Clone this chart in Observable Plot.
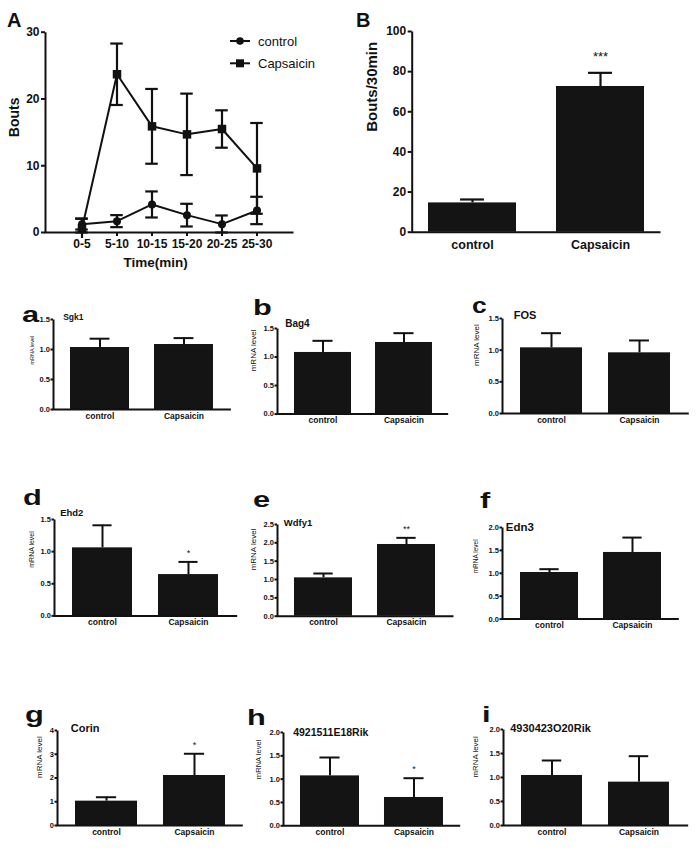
<!DOCTYPE html>
<html><head><meta charset="utf-8">
<script src="https://cdn.jsdelivr.net/npm/d3@7"></script>
<script src="https://cdn.jsdelivr.net/npm/@observablehq/plot@0.6"></script>
<style>
html,body{margin:0;padding:0;background:#fff;}
#fig{position:relative;width:700px;height:851px;overflow:hidden;background:#fff;font-family:"Liberation Sans",Arial,sans-serif;color:#111;}
#fig svg{position:absolute;overflow:visible;}
#fig [aria-label$="axis tick"]{stroke-width:2px;}
.gp [aria-label="y-axis tick label"]{font-size:7.5px;}
.gp [aria-label="x-axis tick label"]{font-size:8.5px;}
.big [aria-label$="axis tick label"]{font-size:12px;}
.bigB [aria-label="y-axis tick label"]{font-size:12px;}
.bigB [aria-label="x-axis tick label"]{font-size:12.5px;}
</style></head>
<body><div id="fig"></div>
<script>
// ---------- data ----------
const timeBins = ["0-5","5-10","10-15","15-20","20-25","25-30"];
const controlBouts = [1.25, 1.7, 4.2, 2.6, 1.25, 3.3];
const controlErr   = [0.8, 0.9, 1.95, 1.7, 1.3, 2.05];
const capsBouts    = [0.6, 23.7, 15.9, 14.7, 15.5, 9.6];
const capsErr      = [1.5, 4.6, 5.6, 6.1, 2.8, 6.8];

const groups = ["control","Capsaicin"];
const totalBouts = [14.6, 72.6];
const totalErr   = [1.7, 6.8];
const totalSig   = ["", "***"];

const genes       = ["Sgk1","Bag4","FOS","Ehd2","Wdfy1","Edn3","Corin","4921511E18Rik","4930423O20Rik"];
const geneControl = [1.033, 1.08, 1.037, 1.059, 1.045, 1.018, 1.025, 1.07, 1.042];
const geneCtrlErr = [0.147, 0.204, 0.231, 0.351, 0.119, 0.072, 0.165, 0.394, 0.312];
const geneCaps    = [1.083, 1.255, 0.958, 0.643, 1.955, 1.455, 2.105, 0.607, 0.903];
const geneCapsErr = [0.107, 0.163, 0.195, 0.197, 0.181, 0.325, 0.915, 0.413, 0.541];
const geneSig     = ["", "", "", "*", "**", "", "*", "*", ""];
const geneYMax    = [1.5, 1.5, 1.5, 1.5, 2.5, 2.0, 4, 2.0, 2.0];
const geneTick    = [0.5, 0.5, 0.5, 0.5, 0.5, 0.5, 1, 0.5, 0.5];
const panelLetters = ["a","b","c","d","e","f","g","h","i"];

// ---------- layout (pixels) ----------
const layout = [
 {L:53.3, R:230.7, T:319.3, B:409.3, lx:31.7, ls:5.5, tx:63,  ty:317,   ts:8.5,  kx:22,  ky:322, sx:1.4},
 {L:277.3,R:448,   T:327.7, B:413.3, lx:253,  ls:8,   tx:285, ty:323,   ts:10,   kx:253, ky:315, sx:1.4},
 {L:501.7,R:688,   T:318.3, B:413.3, lx:475.7,ls:8,   tx:513, ty:315,   ts:11,   kx:472, ky:313, sx:1.2},
 {L:54.3, R:237,   T:519.3, B:615.7, lx:31.7, ls:7,   tx:60,  ty:513,   ts:9.5,  kx:23,  ky:505, sx:1.4},
 {L:276.7,R:452.7, T:524.3, B:616,   lx:253,  ls:8,   tx:283, ty:522.7, ts:9.5,  kx:253, ky:507, sx:1.4},
 {L:501.7,R:678,   T:526.7, B:618.3, lx:475,  ls:6.5, tx:505, ty:526.7, ts:11.5, kx:480, ky:508, sx:1.4},
 {L:56.7, R:242,   T:730,   B:825,   lx:38.3, ls:8,   tx:70,  ty:727.7, ts:11,   kx:25,  ky:721.5, sx:1.4},
 {L:283.3,R:460,   T:731.7, B:825,   lx:258,  ls:7.6, tx:293, ty:731.7, ts:10.5, kx:247, ky:725, sx:1.4},
 {L:503.3,R:688,   T:729,   B:825,   lx:475,  ls:7.9, tx:510, ty:727.7, ts:11,   kx:482, ky:722, sx:1.4}
];

const ink = "#111";
const barFill = "#141414";
const fig = document.getElementById("fig");
const baseStyle = {fontFamily:'"Liberation Sans", Arial, sans-serif', fontWeight:"bold", color: ink, background:"transparent", overflow:"visible"};

function axisFrame(w, h) {
  // draws only the bottom and left sides of the frame
  return Plot.frame({stroke: ink, strokeWidth: 2, strokeDasharray: `0 ${w + h} ${w + h}`});
}
function place(svg, left, top, cls) {
  svg.style.left = left + "px";
  svg.style.top = top + "px";
  svg.style.maxWidth = "none";
  if (cls) svg.classList.add(cls);
  fig.appendChild(svg);
}

// ---------- Panel A ----------
{
  const ctrl = timeBins.map((t, i) => ({bin: t, v: controlBouts[i], e: controlErr[i]}));
  const caps = timeBins.map((t, i) => ({bin: t, v: capsBouts[i], e: capsErr[i]}));
  const L = 45, R = 293, T = 31.7, B = 232, W = 300, H = 270;
  const pi = 0.62, po = 0.81;
  const step = (R - L) / (timeBins.length - pi + 2 * po);
  const inset = (step * (1 - pi) - 13) / 2;
  const errMarks = (d) => [
    Plot.ruleX(d, {x: "bin", y1: r => r.v - r.e, y2: r => r.v + r.e, stroke: ink, strokeWidth: 2.2}),
    Plot.tickY(d, {x: "bin", y: r => r.v + r.e, stroke: ink, strokeWidth: 2.2, insetLeft: inset, insetRight: inset}),
    Plot.tickY(d, {x: "bin", y: r => Math.max(0, r.v - r.e), stroke: ink, strokeWidth: 2.2, insetLeft: inset, insetRight: inset})
  ];
  const svg = Plot.plot({
    width: W, height: H, marginLeft: L, marginRight: W - R, marginTop: T, marginBottom: H - B,
    style: {...baseStyle, fontSize: "12px"},
    x: {domain: timeBins, paddingInner: pi, paddingOuter: po, label: null, tickSize: 4, tickPadding: 3},
    y: {domain: [0, 30], ticks: [0, 10, 20, 30], tickSize: 4, tickPadding: 2, label: null},
    marks: [
      ...errMarks(ctrl), ...errMarks(caps),
      Plot.line(ctrl, {x: "bin", y: "v", stroke: ink, strokeWidth: 2}),
      Plot.line(caps, {x: "bin", y: "v", stroke: ink, strokeWidth: 2}),
      Plot.dot(ctrl, {x: "bin", y: "v", r: 4, fill: ink, symbol: "circle"}),
      Plot.dot(caps, {x: "bin", y: "v", r: 4.8, fill: ink, symbol: "square"}),
      Plot.text(["Time(min)"], {frameAnchor: "bottom", text: d => d, dx: -14, dy: 29.7, lineAnchor: "middle", fontSize: 13.5, fontWeight: "bold"}),
      Plot.text(["Bouts"], {frameAnchor: "left", text: d => d, rotate: -90, dx: -31, dy: 4.8, fontSize: 14, fontWeight: "bold"}),
      axisFrame(R - L, B - T)
    ]
  });
  place(svg, 0, 0, "big");
}

// ---------- Panel B ----------
{
  const data = groups.map((g, i) => ({group: g, v: totalBouts[i], e: totalErr[i], s: totalSig[i]}));
  const left = 350, L = 411.7, R = 660, T = 31, B = 231.7, W = 350, H = 270;
  const pi = 0.3125, po = 0.125;
  const step = (R - L) / (2 - pi + 2 * po);
  const inset = (step * (1 - pi) - 24) / 2;
  const svg = Plot.plot({
    width: W, height: H, marginLeft: L - left, marginRight: left + W - R, marginTop: T, marginBottom: H - B,
    style: {...baseStyle, fontSize: "12px"},
    x: {domain: groups, paddingInner: pi, paddingOuter: po, label: null, tickSize: 0, tickPadding: 8},
    y: {domain: [0, 100], ticks: [0, 20, 40, 60, 80, 100], tickSize: 4, tickPadding: 2, label: null},
    marks: [
      Plot.ruleX(data, {x: "group", y1: "v", y2: d => d.v + d.e, stroke: ink, strokeWidth: 2.2}),
      Plot.tickY(data, {x: "group", y: d => d.v + d.e, stroke: ink, strokeWidth: 2.2, insetLeft: inset, insetRight: inset}),
      Plot.barY(data, {x: "group", y: "v", fill: barFill}),
      Plot.text(data.filter(d => d.s), {x: "group", y: d => d.v + d.e, text: "s", dy: -16, fontSize: 13, fontWeight: "normal"}),
      Plot.text(["Bouts/30min"], {frameAnchor: "left", text: d => d, rotate: -90, dx: -40, fontSize: 15, fontWeight: "bold"}),
      axisFrame(R - L, B - T)
    ]
  });
  place(svg, left, 0, "bigB");
}

// ---------- Gene panels ----------
genes.forEach((gene, i) => {
  const P = layout[i];
  const mL = 40, mR = 6, mT = 16, mB = 22;
  const w = P.R - P.L, h = P.B - P.T;
  const data = groups.map((g, j) => ({
    group: g,
    v: j ? geneCaps[i] : geneControl[i],
    e: j ? geneCapsErr[i] : geneCtrlErr[i],
    s: j ? geneSig[i] : ""
  }));
  const pi = 0.3, po = 0.2;
  const step = w / (2 - pi + 2 * po);
  const inset = (step * (1 - pi) - 20) / 2;
  const ymax = geneYMax[i], ts = geneTick[i];
  const ticks = d3.range(0, ymax + ts / 2, ts);
  const svg = Plot.plot({
    width: w + mL + mR, height: h + mT + mB,
    marginLeft: mL, marginRight: mR, marginTop: mT, marginBottom: mB,
    style: {...baseStyle, fontSize: "8px"},
    x: {domain: groups, paddingInner: pi, paddingOuter: po, label: null, tickSize: 0, tickPadding: 3},
    y: {domain: [0, ymax], ticks, tickFormat: ts < 1 ? d3.format(".1f") : d3.format("d"), tickSize: 2.5, tickPadding: 1, label: null},
    marks: [
      Plot.ruleX(data, {x: "group", y1: "v", y2: d => d.v + d.e, stroke: ink, strokeWidth: 2}),
      Plot.tickY(data, {x: "group", y: d => d.v + d.e, stroke: ink, strokeWidth: 2, insetLeft: inset, insetRight: inset}),
      Plot.barY(data, {x: "group", y: "v", fill: barFill}),
      Plot.text(data.filter(d => d.s), {x: "group", y: d => d.v + d.e, text: "s", dy: -9, fontSize: 9, fontWeight: "normal"}),
      Plot.text([gene], {frameAnchor: "top-left", text: d => d, dx: P.tx - P.L, dy: P.ty - P.T, textAnchor: "start", lineAnchor: "middle", fontSize: P.ts, fontWeight: "bold"}),
      Plot.text(["mRNA level"], {frameAnchor: "left", text: d => d, rotate: -90, dx: P.lx - P.L, fontSize: P.ls, fontWeight: "normal"}),
      axisFrame(w, h)
    ]
  });
  place(svg, P.L - mL, P.T - mT, "gp");
});

// ---------- panel letters and legend overlay ----------
{
  const ns = "http://www.w3.org/2000/svg";
  const ov = document.createElementNS(ns, "svg");
  ov.setAttribute("width", 700); ov.setAttribute("height", 851);
  ov.style.left = "0px"; ov.style.top = "0px";
  ov.style.fontFamily = '"Liberation Sans", Arial, sans-serif';
  const addText = (str, x, y, size, weight, sx) => {
    const t = document.createElementNS(ns, "text");
    t.setAttribute("transform", `translate(${x},${y}) scale(${sx},1)`);
    t.setAttribute("font-size", size);
    t.setAttribute("font-weight", weight);
    t.setAttribute("fill", ink);
    t.textContent = str;
    ov.appendChild(t);
  };
  addText("A", 7, 27, 20, "bold", 1);
  addText("B", 356, 27, 20, "bold", 1);
  panelLetters.forEach((k, i) => addText(k, layout[i].kx, layout[i].ky, 22, "bold", layout[i].sx));
  // legend of panel A
  const items = [{label: "control", y: 41, sym: "circle"}, {label: "Capsaicin", y: 63.3, sym: "square"}];
  items.forEach(it => {
    const ln = document.createElementNS(ns, "line");
    ln.setAttribute("x1", 230); ln.setAttribute("x2", 250);
    ln.setAttribute("y1", it.y); ln.setAttribute("y2", it.y);
    ln.setAttribute("stroke", ink); ln.setAttribute("stroke-width", 2);
    ov.appendChild(ln);
    let m;
    if (it.sym === "circle") {
      m = document.createElementNS(ns, "circle");
      m.setAttribute("cx", 240); m.setAttribute("cy", it.y); m.setAttribute("r", 3.8);
    } else {
      m = document.createElementNS(ns, "rect");
      m.setAttribute("x", 236); m.setAttribute("y", it.y - 4); m.setAttribute("width", 8); m.setAttribute("height", 8);
    }
    m.setAttribute("fill", ink);
    ov.appendChild(m);
    const t = document.createElementNS(ns, "text");
    t.setAttribute("x", 258); t.setAttribute("y", it.y + 4.5);
    t.setAttribute("font-size", 13); t.setAttribute("fill", ink);
    t.textContent = it.label;
    ov.appendChild(t);
  });
  fig.appendChild(ov);
}
</script>
</body></html>
